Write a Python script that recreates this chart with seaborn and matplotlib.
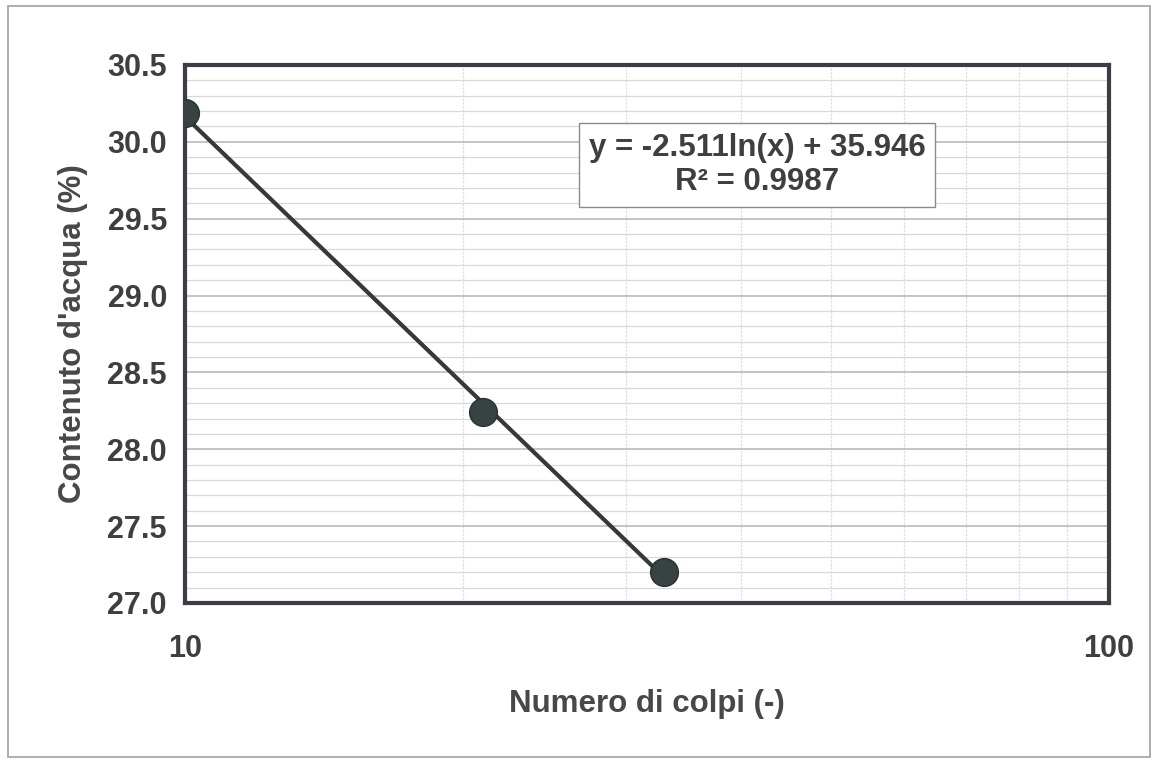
import numpy as np
import pandas as pd
import seaborn as sns
import matplotlib.pyplot as plt
from matplotlib.ticker import FixedLocator, NullFormatter, MultipleLocator
from matplotlib.patches import Rectangle

# dati
colpi = [10, 21, 33]
contenuto = [30.19, 28.24, 27.20]

# linea di tendenza logaritmica (come da etichetta)
trend_slope = -2.511
trend_intercept = 35.946
eq_text = "y = -2.511ln(x) + 35.946"
r2_text = "R² = 0.9987"

x_ticks = [10, 100]
y_ticks = [27.0, 27.5, 28.0, 28.5, 29.0, 29.5, 30.0, 30.5]

sns.set_style("white")
plt.rcParams['font.family'] = ['Liberation Sans', 'DejaVu Sans']
plt.rcParams['font.weight'] = 'bold'

txt_col = '#3f3f3f'

fig = plt.figure(figsize=(11.59, 7.6), dpi=100)
ax = fig.add_axes([0.1596, 0.2066, 0.9569 - 0.1596, 0.9145 - 0.2066])

df = pd.DataFrame({'colpi': colpi, 'contenuto': contenuto})
x_fit = np.geomspace(min(colpi), max(colpi), 60)
fit = pd.DataFrame({'x': x_fit, 'y': trend_slope * np.log(x_fit) + trend_intercept})

sns.lineplot(data=fit, x='x', y='y', ax=ax, color='#383838', linewidth=3.0, zorder=3)
sns.scatterplot(data=df, x='colpi', y='contenuto', ax=ax, s=400, color='#374343',
                edgecolor='#2a3030', linewidth=1, zorder=4)

ax.set_xscale('log')
ax.set_xlim(10, 100)
ax.set_ylim(27.0, 30.5)

ax.xaxis.set_major_locator(FixedLocator(x_ticks))
ax.set_xticklabels([str(t) for t in x_ticks])
ax.xaxis.set_minor_locator(FixedLocator(list(range(20, 100, 10))))
ax.xaxis.set_minor_formatter(NullFormatter())
ax.yaxis.set_major_locator(FixedLocator(y_ticks))
ax.set_yticklabels([f"{t:.1f}" for t in y_ticks])
ax.yaxis.set_minor_locator(MultipleLocator(0.1))

ax.grid(which='major', axis='y', color='#b4b4b4', linewidth=1.1)
ax.grid(which='minor', axis='y', color='#d9d9d9', linewidth=0.9)
ax.grid(which='minor', axis='x', color='#dedede', linewidth=0.9, linestyle=(0, (2, 1)))
ax.grid(which='major', axis='x', color='#dedede', linewidth=0.9)
ax.set_axisbelow(True)

ax.tick_params(which='major', direction='out', length=6, width=1, color='#555555',
               labelsize=22, labelcolor=txt_col)
ax.tick_params(axis='x', which='major', pad=16)
ax.tick_params(axis='y', which='major', pad=7)
ax.tick_params(which='minor', length=0)

for s in ax.spines.values():
    s.set_color('#3d3d45')
    s.set_linewidth(3)

ax.set_xlabel("Numero di colpi (-)", fontsize=22.5, fontweight='bold', color='#484848', labelpad=18)
ax.set_ylabel("Contenuto d'acqua (%)", fontsize=22.5, fontweight='bold', color='#484848', labelpad=14)

ax.text(41.6, 29.85, eq_text + "\n" + r2_text, ha='center', va='center',
        multialignment='center', fontsize=22.5, color=txt_col, linespacing=1.2,
        bbox=dict(boxstyle='square,pad=0.3', facecolor='white', edgecolor='#8a8a8a', linewidth=1),
        zorder=5)

# cornice esterna dell'area del grafico
fig.patches.append(Rectangle((8 / 1159, 3 / 760), 1142 / 1159, 751 / 760, transform=fig.transFigure,
                             fill=False, edgecolor='#a8a8a8', linewidth=1.3))

fig.savefig('out.png', dpi=100, facecolor='white')
